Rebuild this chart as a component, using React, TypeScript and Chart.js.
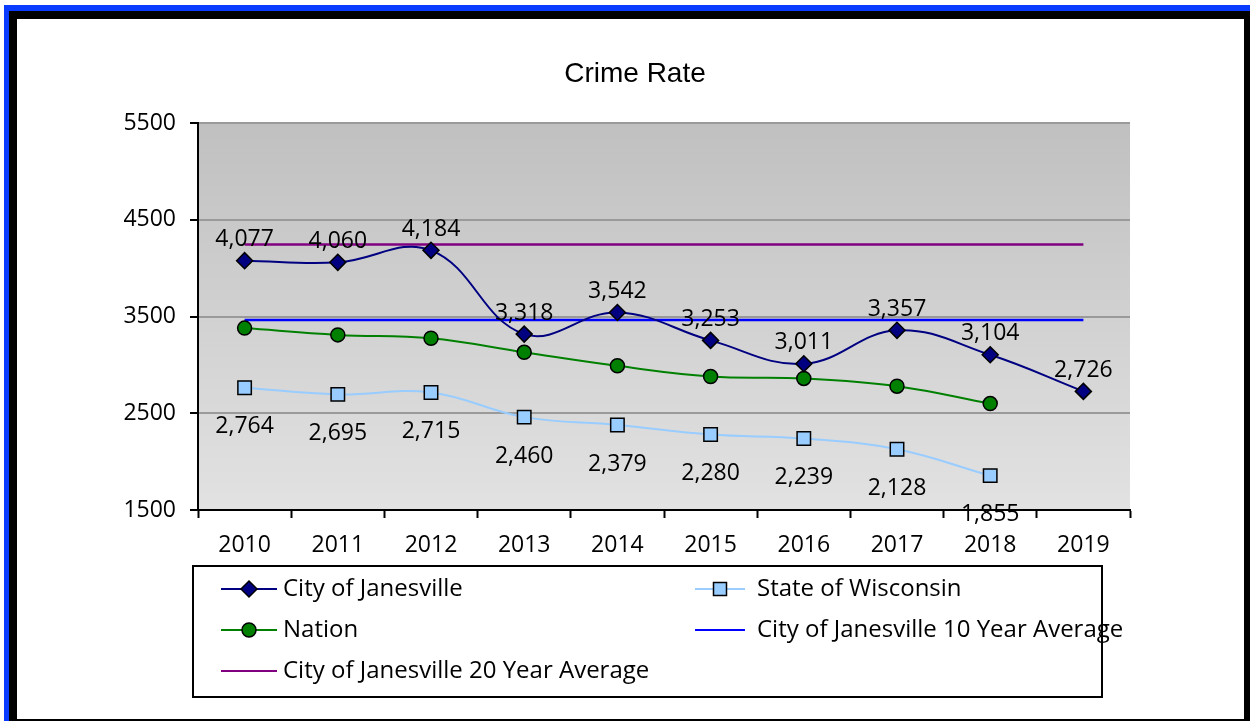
import React, { useEffect, useRef } from 'react';
import { Chart, registerables } from 'chart.js';

Chart.register(...registerables);

// ---------- data ----------
const years = ['2010', '2011', '2012', '2013', '2014', '2015', '2016', '2017', '2018', '2019'];
const janesville = [4077, 4060, 4184, 3318, 3542, 3253, 3011, 3357, 3104, 2726];
const wisconsin = [2764, 2695, 2715, 2460, 2379, 2280, 2239, 2128, 1855, null];
const nation = [3380, 3310, 3275, 3130, 2990, 2880, 2860, 2780, 2600, null];
const avg10Year = [3463, 3463, 3463, 3463, 3463, 3463, 3463, 3463, 3463, 3463];
const avg20Year = [4243, 4243, 4243, 4243, 4243, 4243, 4243, 4243, 4243, 4243];
const yMin = 1500;
const yMax = 5500;
const yStep = 1000;
const chartTitle = 'Crime Rate';
const seriesNames = [
  'City of Janesville',
  'State of Wisconsin',
  'Nation',
  'City of Janesville 10 Year Average',
  'City of Janesville 20 Year Average',
];

const FONT = '"Open Sans", "Noto Sans", sans-serif';
const W = 1227;
const H = 700;

type Marker = 'diamond' | 'square' | 'circle' | 'none';

function drawMarker(ctx: CanvasRenderingContext2D, kind: Marker, x: number, y: number, fill: string) {
  if (kind === 'none') return;
  ctx.save();
  ctx.fillStyle = fill;
  ctx.strokeStyle = '#000';
  ctx.lineWidth = 1.5;
  ctx.beginPath();
  if (kind === 'diamond') {
    const r = 8;
    ctx.moveTo(x, y - r);
    ctx.lineTo(x + r, y);
    ctx.lineTo(x, y + r);
    ctx.lineTo(x - r, y);
    ctx.closePath();
  } else if (kind === 'square') {
    const s = 6.5;
    ctx.rect(x - s, y - s, 2 * s, 2 * s);
  } else {
    ctx.arc(x, y, 7, 0, Math.PI * 2);
  }
  ctx.fill();
  ctx.stroke();
  ctx.restore();
}

const bgPlugin = {
  id: 'plotBg',
  beforeDraw(chart: any) {
    const { ctx, chartArea: a } = chart;
    const g = ctx.createLinearGradient(0, a.top, 0, a.bottom);
    g.addColorStop(0, '#c0c0c0');
    g.addColorStop(1, '#e2e2e2');
    ctx.save();
    ctx.fillStyle = g;
    ctx.fillRect(a.left, a.top, a.right - a.left, a.bottom - a.top);
    ctx.restore();
  },
};

const labelPlugin = {
  id: 'valueLabels',
  afterDatasetsDraw(chart: any) {
    const ctx = chart.ctx;
    ctx.save();
    ctx.font = `23px ${FONT}`;
    ctx.fillStyle = '#000';
    ctx.textAlign = 'center';
    ctx.textBaseline = 'middle';
    chart.data.datasets.forEach((ds: any, di: number) => {
      if (ds.labelOffset == null) return;
      const meta = chart.getDatasetMeta(di);
      meta.data.forEach((pt: any, i: number) => {
        const v = ds.data[i];
        if (v == null) return;
        ctx.fillText(Number(v).toLocaleString('en-US'), pt.x, pt.y + ds.labelOffset);
      });
    });
    ctx.restore();
  },
};

const titleLegendPlugin = {
  id: 'titleLegend',
  afterDraw(chart: any) {
    const ctx: CanvasRenderingContext2D = chart.ctx;
    ctx.save();
    // title
    ctx.font = '28px "Liberation Sans", Arial, sans-serif';
    ctx.fillStyle = '#000';
    ctx.textAlign = 'center';
    ctx.textBaseline = 'middle';
    ctx.fillText(chartTitle, 618, 55);

    // legend box
    const bx = 176, by = 547, bw = 909, bh = 131;
    ctx.lineWidth = 2;
    ctx.strokeStyle = '#000';
    ctx.strokeRect(bx, by, bw, bh);

    const cols = [
      { x0: 204, x1: 260, tx: 266 },
      { x0: 678, x1: 728, tx: 740 },
    ];
    const rows = [570, 611, 652];
    ctx.font = `24px ${FONT}`;
    ctx.textAlign = 'left';
    chart.data.datasets.forEach((ds: any, i: number) => {
      const c = cols[i % 2];
      const y = rows[Math.floor(i / 2)];
      ctx.strokeStyle = ds.borderColor;
      ctx.lineWidth = 2;
      ctx.beginPath();
      ctx.moveTo(c.x0, y);
      ctx.lineTo(c.x1, y);
      ctx.stroke();
      drawMarker(ctx, ds.legendMarker, (c.x0 + c.x1) / 2, y, ds.pointBackgroundColor || ds.borderColor);
      ctx.fillStyle = '#000';
      ctx.fillText(ds.label, c.tx, y);
    });
    ctx.restore();
  },
};

export default function App() {
  const ref = useRef<HTMLCanvasElement | null>(null);

  useEffect(() => {
    document.documentElement.style.overflow = 'hidden';
    document.body.style.overflow = 'hidden';
    const canvas = ref.current;
    if (!canvas) return;
    const chart = new Chart(canvas, {
      type: 'line',
      data: {
        labels: years,
        datasets: [
          {
            label: seriesNames[0],
            data: janesville,
            borderColor: '#000080',
            backgroundColor: '#000080',
            pointBackgroundColor: '#000080',
            pointBorderColor: '#000',
            pointBorderWidth: 1.5,
            pointStyle: 'rectRot',
            pointRadius: 8,
            borderWidth: 2,
            tension: 0.4,
            labelOffset: -21,
            legendMarker: 'diamond',
          } as any,
          {
            label: seriesNames[1],
            data: wisconsin,
            borderColor: '#99ccff',
            backgroundColor: '#99ccff',
            pointBackgroundColor: '#99ccff',
            pointBorderColor: '#000',
            pointBorderWidth: 1.5,
            pointStyle: 'rect',
            pointRadius: 9.5,
            borderWidth: 2,
            tension: 0.4,
            labelOffset: 39,
            legendMarker: 'square',
          } as any,
          {
            label: seriesNames[2],
            data: nation,
            borderColor: '#008000',
            backgroundColor: '#008000',
            pointBackgroundColor: '#008000',
            pointBorderColor: '#000',
            pointBorderWidth: 1.5,
            pointStyle: 'circle',
            pointRadius: 7,
            borderWidth: 2,
            tension: 0.4,
            legendMarker: 'circle',
          } as any,
          {
            label: seriesNames[3],
            data: avg10Year,
            borderColor: '#0000ff',
            backgroundColor: '#0000ff',
            pointRadius: 0,
            borderWidth: 2.5,
            tension: 0,
            legendMarker: 'none',
          } as any,
          {
            label: seriesNames[4],
            data: avg20Year,
            borderColor: '#800080',
            backgroundColor: '#800080',
            pointRadius: 0,
            borderWidth: 2.5,
            tension: 0,
            legendMarker: 'none',
          } as any,
        ],
      },
      options: {
        responsive: false,
        animation: false,
        devicePixelRatio: 1,
        layout: { padding: { top: 104, left: 0, right: 114, bottom: 149 } },
        plugins: {
          legend: { display: false },
          title: { display: false },
          tooltip: { enabled: false },
        },
        scales: {
          x: {
            type: 'category',
            offset: true,
            grid: {
              offset: true,
              drawOnChartArea: false,
              drawTicks: true,
              tickLength: 8,
              tickColor: '#000',
              tickWidth: 2,
            },
            border: { color: '#000', width: 2 },
            ticks: {
              font: { family: FONT, size: 23 },
              color: '#000',
              padding: 14,
              maxRotation: 0,
              autoSkip: false,
            },
            afterFit: (s: any) => {
              s.height = 60;
            },
          },
          y: {
            min: yMin,
            max: yMax,
            ticks: {
              stepSize: yStep,
              font: { family: FONT, size: 23 },
              color: '#000',
              padding: 14,
              callback: (v: any) => String(v),
            },
            grid: {
              color: '#9a9a9a',
              lineWidth: 2,
              tickColor: '#000',
              tickLength: 8,
              tickWidth: 2,
            },
            border: { color: '#000', width: 2 },
            afterFit: (s: any) => {
              s.width = 181;
            },
          },
        },
      } as any,
      plugins: [bgPlugin, labelPlugin, titleLegendPlugin],
    });
    return () => chart.destroy();
  }, []);

  return (
    <div>
      <div style={{ position: 'fixed', left: 4, top: 5, width: 1300, height: 800, background: '#0a3cff' }} />
      <div style={{ position: 'fixed', left: 9, top: 11, width: 1243, height: 716, background: '#000' }} />
      <div style={{ position: 'fixed', left: 17, top: 19, width: W, height: H, background: '#fff' }}>
        <canvas ref={ref} width={W} height={H} style={{ display: 'block', width: W, height: H }} />
      </div>
    </div>
  );
}
